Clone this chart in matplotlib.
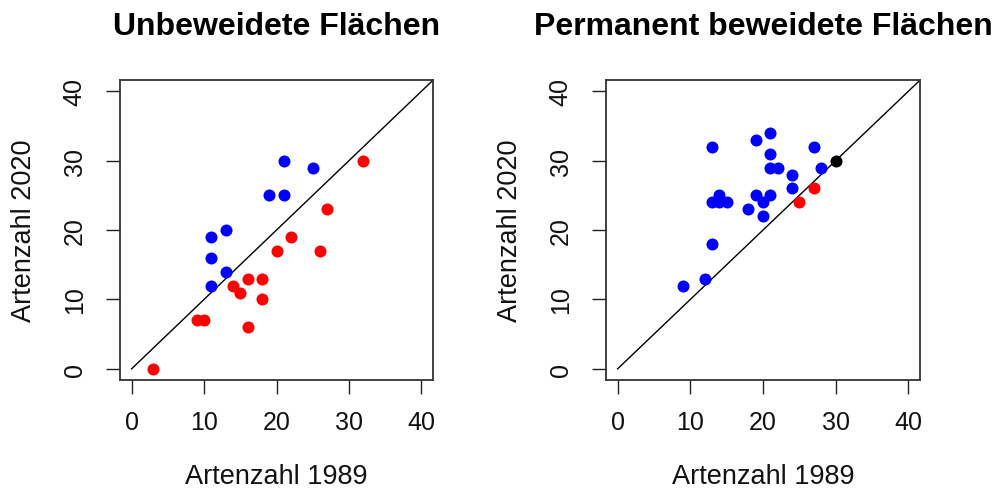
import numpy as np
import matplotlib.pyplot as plt

plt.rcParams['font.family'] = ['Liberation Sans', 'DejaVu Sans']

# Unbeweidete Flaechen
unb_blue_x = [21, 25, 19, 21, 11, 13, 11, 13, 11]
unb_blue_y = [30, 29, 25, 25, 19, 20, 16, 14, 12]
unb_red_x = [32, 27, 22, 20, 26, 14, 15, 16, 18, 18, 16, 9, 10, 3]
unb_red_y = [30, 23, 19, 17, 17, 12, 11, 13, 13, 10, 6, 7, 7, 0]

# Permanent beweidete Flaechen
perm_blue_x = [9, 12, 13, 13, 13, 14, 14, 15, 19, 21, 21, 21, 22, 24, 24,
               19, 20, 21, 18, 20, 27, 28]
perm_blue_y = [12, 13, 18, 32, 24, 25, 24, 24, 33, 34, 31, 29, 29, 28, 26,
               25, 24, 25, 23, 22, 32, 29]
perm_red_x = [25, 27]
perm_red_y = [24, 26]
perm_black_x = [30]
perm_black_y = [30]

ticks = [0, 10, 20, 30, 40]
titles = ['Unbeweidete Flächen', 'Permanent beweidete Flächen']


def style_axes(ax, title):
    ax.set_xlim(-1.6, 41.6)
    ax.set_ylim(-1.6, 41.6)
    ax.plot([0, 41.6], [0, 41.6], color='black', lw=1, zorder=1)
    ax.set_xticks(ticks)
    ax.set_yticks(ticks)
    ax.tick_params(direction='out', length=10, width=1, labelsize=18,
                   colors='#222222', labelcolor='#111111')
    ax.tick_params(axis='x', pad=12)
    ax.tick_params(axis='y', pad=14)
    for lab in ax.get_yticklabels():
        lab.set_rotation(90)
        lab.set_va('center')
    for s in ax.spines.values():
        s.set_linewidth(1.3)
        s.set_color('#333333')
    ax.set_xlabel('Artenzahl 1989', fontsize=19.5, color='#111111')
    ax.set_ylabel('Artenzahl 2020', fontsize=19.5, color='#111111')
    ax.xaxis.set_label_coords(0.5, -0.32)
    ax.xaxis.label.set_va('center')
    ax.yaxis.set_label_coords(-0.307, 0.5)
    ax.yaxis.label.set_va('center')
    ax.yaxis.label.set_ha('center')
    ax.set_title(title, fontsize=23, fontweight='bold', pad=33)


fig = plt.figure(figsize=(10, 4.89), dpi=100)
ax1 = fig.add_axes([0.12, 0.221, 0.313, 0.613])
ax2 = fig.add_axes([0.606, 0.221, 0.314, 0.613])

ms = 75
ax1.scatter(unb_blue_x, unb_blue_y, s=ms, color='blue', zorder=3, linewidths=0)
ax1.scatter(unb_red_x, unb_red_y, s=ms, color='red', zorder=3, linewidths=0)
style_axes(ax1, titles[0])

ax2.scatter(perm_blue_x, perm_blue_y, s=ms, color='blue', zorder=3, linewidths=0)
ax2.scatter(perm_red_x, perm_red_y, s=ms, color='red', zorder=3, linewidths=0)
ax2.scatter(perm_black_x, perm_black_y, s=ms, color='black', zorder=3, linewidths=0)
style_axes(ax2, titles[1])

fig.savefig('out.png', dpi=100)
